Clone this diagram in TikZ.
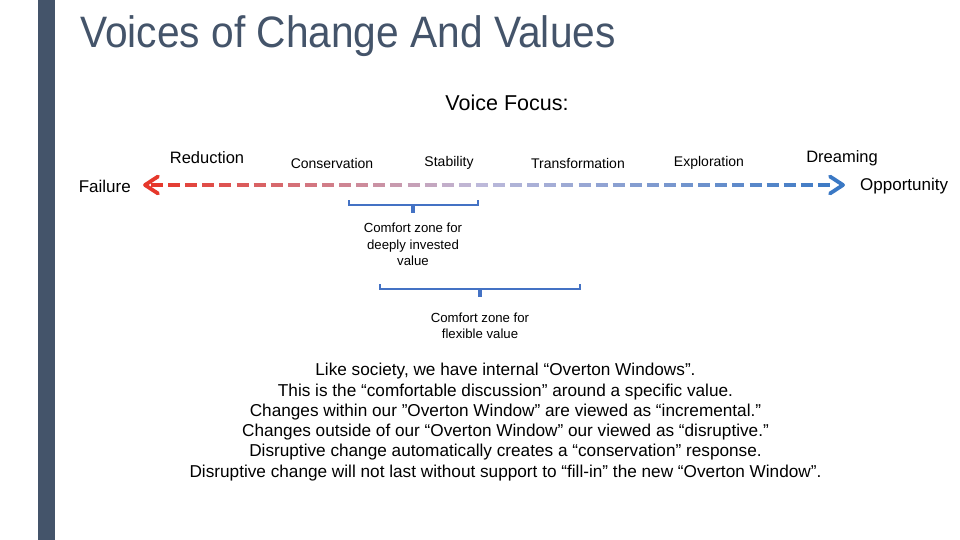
\documentclass[tikz,border=0pt]{standalone}
\usepackage{fontspec}
\usepackage{graphicx}
\setmainfont{Liberation Sans}
\begin{document}
\begin{tikzpicture}[x=1pt,y=-1pt,
  lbl/.style={inner sep=0pt,anchor=center},
  brace/.style={draw=braceblue,line width=2.4pt,line cap=butt,line join=miter},
  stem/.style={draw=braceblue,line width=4pt},
  tip/.style={line width=3.8pt,line cap=round,line join=round},
  zonetxt/.style={lbl,align=center,font=\fontsize{13.2}{16.5}\selectfont},
  notetxt/.style={lbl,align=center,font=\fontsize{17.2}{20.3}\selectfont},
  voice/.style={lbl,font=\fontsize{14}{17}\selectfont},
  bigvoice/.style={lbl,font=\fontsize{16.5}{20}\selectfont},
  endtxt/.style={lbl,font=\fontsize{17}{20}\selectfont}]
\definecolor{slate}{HTML}{44546A}
\definecolor{braceblue}{HTML}{4472C4}
\definecolor{failred}{RGB}{230,56,44}
\definecolor{midlav}{RGB}{190,186,218}
\definecolor{oppblue}{RGB}{58,120,196}
% page frame
\useasboundingbox (0,0) rectangle (960,540);
\fill[white] (0,0) rectangle (960,540);
\fill[slate] (38,0) rectangle (55,540);
% title
\node[lbl,anchor=west,text=slate] (title) at (80,36)
  {\scalebox{0.925}[1]{\fontsize{44}{50}\selectfont Voices of Change And Values}};
\node[lbl,font=\fontsize{21.5}{24}\selectfont] (focus) at (507,103) {Voice Focus:};
% axis ends
\coordinate (L) at (143,185);
\coordinate (R) at (845,185);
\node[endtxt,anchor=east] (fail) at (131,186) {Failure};
\node[endtxt,anchor=west] (opp) at (860,186) {Opportunity};
% gradient dashed axis
\foreach \k in {0,...,39}{
  \pgfmathsetmacro\xa{151+\k*17.1}
  \pgfmathsetmacro\xb{\xa+12}
  \pgfmathsetmacro\t{(\xa-151)/683}
  \pgfmathparse{\t<0.47 ? 1 : 0}
  \ifnum\pgfmathresult=1
    \pgfmathsetmacro\p{round(100*\t/0.47)}
    \colorlet{dc}{midlav!\p!failred}
  \else
    \pgfmathsetmacro\p{round(100*(\t-0.47)/0.53)}
    \colorlet{dc}{oppblue!\p!midlav}
  \fi
  \draw[dc,line width=3.2pt] (\xa,185) -- (\xb,185);
}
% arrowheads
\draw[failred,tip] ([shift={(15,-8.5)}]L) -- ([shift={(2,0)}]L) -- ([shift={(15,8.5)}]L);
\draw[oppblue,tip] ([shift={(-15,-8.5)}]R) -- ([shift={(-2,0)}]R) -- ([shift={(-15,8.5)}]R);
% voice labels
\node[bigvoice] (red) at (207,158) {Reduction};
\node[voice] (cons) at (332,163) {Conservation};
\node[voice] (stab) at (449,163) {Stability};
\node[voice] (trans) at (578,163) {Transformation};
\node[voice] (expl) at (709,163) {Exploration};
\node[bigvoice] (dream) at (842,158) {Dreaming};
% comfort zone brackets
\coordinate (b1l) at (349,200);
\coordinate (b1r) at (478,200);
\coordinate (b1m) at (413,205);
\draw[brace] (b1l) -- (349,205) -- (478,205) -- (b1r);
\draw[stem] (b1m) -- (413,213);
\node[zonetxt] (z1) at (413,244.5) {Comfort zone for\\deeply invested\\value};
\coordinate (b2l) at (380,284);
\coordinate (b2r) at (580,284);
\coordinate (b2m) at (480,289);
\draw[brace] (b2l) -- (380,289) -- (580,289) -- (b2r);
\draw[stem] (b2m) -- (480,297);
\node[zonetxt] (z2) at (480,326) {Comfort zone for\\flexible value};
% notes
\node[notetxt] (notes) at (505.5,422)
  {Like society, we have internal “Overton Windows”.\\
   This is the “comfortable discussion” around a specific value.\\
   Changes within our ”Overton Window” are viewed as “incremental.”\\
   Changes outside of our “Overton Window” our viewed as “disruptive.”\\
   Disruptive change automatically creates a “conservation” response.\\
   Disruptive change will not last without support to “fill-in” the new “Overton Window”.};
\end{tikzpicture}
\end{document}
